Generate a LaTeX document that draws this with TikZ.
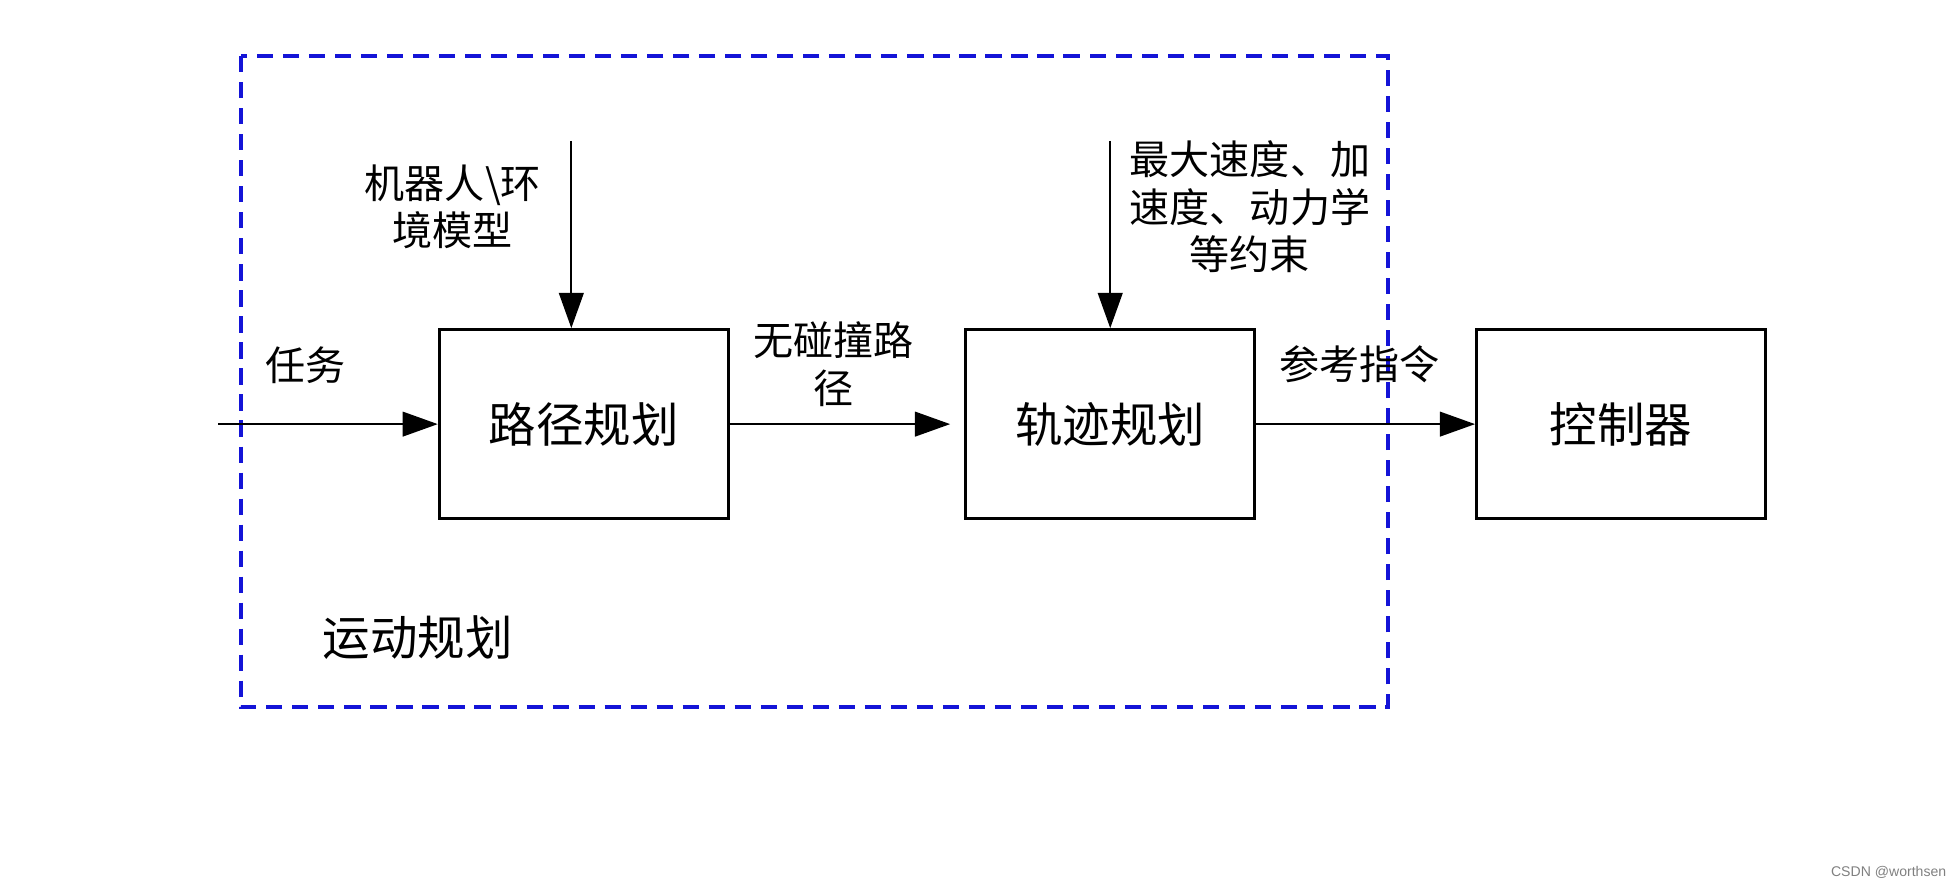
\documentclass[tikz,border=0pt]{standalone}
\usepackage{fontspec}
\setmainfont{Noto Sans CJK SC}
\newfontfamily\markfont{Liberation Sans}
\usepackage{xcolor}
\usetikzlibrary{arrows.meta}

\definecolor{frameblue}{RGB}{20,20,215}

\tikzset{
  blk/.style={draw, line width=0.8pt, minimum width=2.89cm, minimum height=1.89cm, font=\fontsize{13.5}{16}\selectfont},
  lbl/.style={align=center, font=\fontsize{11.4}{13.5}\selectfont},
  flow/.style={line width=0.6pt, -{Triangle[length=10pt, width=7pt]}}
}

\begin{document}
\begin{tikzpicture}[x=0.012474cm, y=-0.012474cm]
\useasboundingbox (0,0) rectangle (1568,711);
%\draw[step=100,gray,very thin] (0,0) grid (1568,711); %background grid
\draw[frameblue, line width=1.1pt, dash pattern=on 4.6pt off 2.8pt] (193,45) rectangle (1113,567);

\node[blk] (path) at (468,340) {路径规划};
\node[blk] (traj) at (890,340) {轨迹规划};
\node[blk] (ctrl) at (1299.5,340) {控制器};

\coordinate (task) at (175,340);
\coordinate (rob) at (458,113);
\coordinate (lim) at (890,113);

\draw[flow] (task) -- (path.west);
\draw[flow] (rob) -- (rob |- path.north);
\draw[flow, shorten >=4pt] (path.east) -- (traj.west);
\draw[flow] (lim) -- (traj.north);
\draw[flow] (traj.east) -- (ctrl.west);

\node[lbl] at (245,293) {任务};
\node[lbl] at (363,166) {机器人\textbackslash 环\\境模型};
\node[lbl] at (668,292) {无碰撞路\\径};
\node[lbl] at (1002,166) {最大速度、加\\速度、动力学\\等约束};
\node[lbl] at (1090,292) {参考指令};
\node[font=\fontsize{13.5}{16}\selectfont] at (335,511) {运动规划};
\node[font=\markfont\fontsize{4}{5}\selectfont, text=gray] at (1514,699) {CSDN @worthsen};
\end{tikzpicture}
\end{document}
